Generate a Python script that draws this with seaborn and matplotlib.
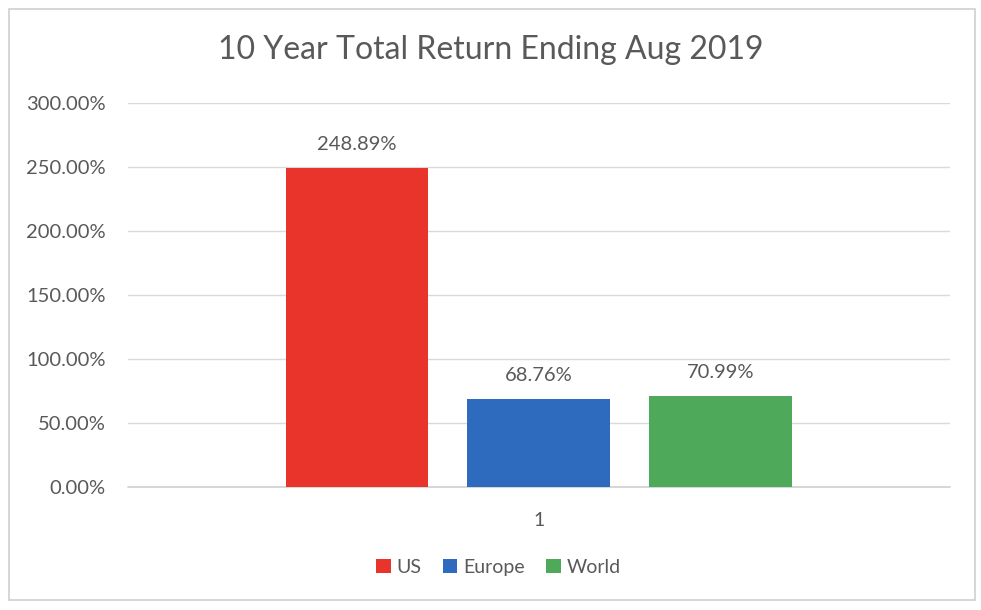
import numpy as np
import pandas as pd
import matplotlib.pyplot as plt
import seaborn as sns
from matplotlib.patches import Rectangle

regions = ['US', 'Europe', 'World']
returns = [248.89, 68.76, 70.99]
category = ['1', '1', '1']
colors = ['#E8342A', '#2E6BBE', '#4EAA5A']
yticks = [0, 50, 100, 150, 200, 250, 300]

df = pd.DataFrame({'Kategoria': category, 'Region': regions, 'Zwrot': returns})

sns.set_theme(style='white')
plt.rcParams['font.family'] = ['Lato', 'DejaVu Sans']
grey = '#595959'

fig = plt.figure(figsize=(9.81, 6.1), dpi=100)
ax = fig.add_axes([0.1305, 0.2016, 0.8375, 0.6295])

plot = sns.barplot(data=df, x='Kategoria', y='Zwrot', hue='Region', palette=colors,
                   width=0.664, gap=0.214, saturation=1, linewidth=0, ax=ax, legend=True)

ax.set_ylim(0, 300)
ax.set_xlim(-0.5, 0.5)
ax.set_yticks(yticks)
ax.set_yticklabels([f'{v:.2f}%' for v in yticks], color=grey, fontsize=14.5)
ax.tick_params(axis='y', length=0, pad=16)
ax.tick_params(axis='x', length=0, pad=18, labelsize=14, labelcolor=grey)
ax.grid(axis='y', color='#D9D9D9', linewidth=1)
ax.axhline(0, color='#D0D0D0', linewidth=1.2, zorder=0.5, clip_on=False)
ax.set_axisbelow(True)
for s in ax.spines.values():
    s.set_visible(False)
ax.set_xlabel('')
ax.set_ylabel('')

for c in ax.containers:
    ax.bar_label(c, labels=[f'{v:.2f}%' for v in c.datavalues], padding=11,
                 color=grey, fontsize=14.5)

handles, labels = ax.get_legend_handles_labels()
ax.get_legend().remove()
fig.legend(handles, labels, loc='center', bbox_to_anchor=(0.508, 0.07), ncol=3, frameon=False,
           fontsize=14, handlelength=0.75, handleheight=0.75, handletextpad=0.3,
           columnspacing=1.1, labelcolor=grey)

fig.text(0.5, 0.918, '10 Year Total Return Ending Aug 2019', ha='center', va='center',
         fontsize=23, color=grey)

fig.patches.append(Rectangle((9 / 981, 10 / 610), 966 / 981, 591 / 610, transform=fig.transFigure,
                             fill=False, edgecolor='#D0D0D0', linewidth=1.2))

fig.savefig('out.png', dpi=100, facecolor='white')
